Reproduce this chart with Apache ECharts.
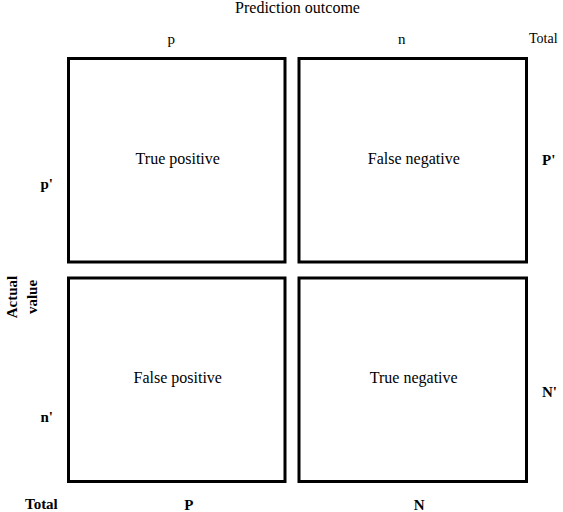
<!DOCTYPE html>
<html>
<head>
<meta charset="utf-8">
<script src="https://cdn.jsdelivr.net/npm/echarts@6/dist/echarts.min.js"></script>
<style>
html,body{margin:0;padding:0;background:#fff;}
#chart{width:563px;height:512px;}
</style>
</head>
<body>
<div id="chart"></div>
<script>
// ---- data ----
const columns = ['p', 'n'];
const rows = ["p'", "n'"];
const cellLabels = [
  ['True positive', 'False negative'],
  ['False positive', 'True negative']
];
const colTotals = ['P', 'N'];
const rowTotals = ["P'", "N'"];
const totalLabel = 'Total';
const xTitle = 'Prediction outcome';
const yTitle = 'Actual\nvalue';

// ---- build ----
const cells = [];
rows.forEach((r, ri) => columns.forEach((c, ci) => cells.push([ci, ri, cellLabels[ri][ci]])));

const FONT = '"Liberation Serif", "DejaVu Serif", serif';
const chart = echarts.init(document.getElementById('chart'), null, {renderer: 'svg'});

const hidden = {axisLine: {show: false}, axisTick: {show: false}, splitLine: {show: false}};

chart.setOption({
  backgroundColor: '#fff',
  animation: false,
  grid: {left: 67, right: 35, top: 57, bottom: 29, containLabel: false, outerBoundsMode: 'none'},
  xAxis: [
    Object.assign({
      type: 'category', data: columns, position: 'top',
      name: xTitle, nameLocation: 'middle', nameGap: 42,
      nameTextStyle: {fontFamily: FONT, fontSize: 16, color: '#000'},
      axisLabel: {fontFamily: FONT, fontSize: 15, color: '#000', margin: 11, padding: [0, 22, 0, 0]}
    }, hidden),
    Object.assign({
      type: 'category', data: colTotals, position: 'bottom',
      axisLabel: {fontFamily: FONT, fontSize: 15, fontWeight: 'bold', color: '#000', margin: 14, padding: [0, 0, 0, 13]}
    }, hidden)
  ],
  yAxis: [
    Object.assign({
      type: 'category', data: rows, inverse: true, position: 'left',
      axisLabel: {
        fontFamily: FONT, fontSize: 15, fontWeight: 'bold', color: '#000', margin: 14,
        formatter: (v, i) => '{r' + i + '|' + v + '}',
        rich: {
          r0: {fontFamily: FONT, fontSize: 15, fontWeight: 'bold', color: '#000', padding: [40, 0, 0, 0]},
          r1: {fontFamily: FONT, fontSize: 15, fontWeight: 'bold', color: '#000', padding: [80, 0, 0, 0]}
        }
      }
    }, hidden),
    Object.assign({
      type: 'category', data: rowTotals, inverse: true, position: 'right',
      axisLabel: {
        fontFamily: FONT, fontSize: 15, fontWeight: 'bold', color: '#000', margin: 14,
        formatter: (v, i) => '{r' + i + '|' + v + '}',
        rich: {
          r0: {fontFamily: FONT, fontSize: 15, fontWeight: 'bold', color: '#000', padding: [0, 0, 7, 0]},
          r1: {fontFamily: FONT, fontSize: 15, fontWeight: 'bold', color: '#000', padding: [31, 0, 0, 0]}
        }
      }
    }, hidden)
  ],
  graphic: [
    {type: 'text', left: 529, top: 31, style: {text: totalLabel, font: '14px ' + FONT, fill: '#000'}},
    {type: 'text', left: 25, top: 496, style: {text: totalLabel, font: 'bold 15px ' + FONT, fill: '#000'}},
    {type: 'text', x: 22, y: 297, rotation: Math.PI / 2,
     style: {text: yTitle, font: 'bold 15px ' + FONT, fill: '#000', align: 'center', verticalAlign: 'middle', lineHeight: 20}}
  ],
  series: [{
    type: 'custom',
    xAxisIndex: 0, yAxisIndex: 0,
    data: cells,
    renderItem: function (params, api) {
      const ci = api.value(0), ri = api.value(1);
      const c = api.coord([ci, ri]);
      const s = api.size([1, 1]);
      let x0 = c[0] - s[0] / 2, x1 = c[0] + s[0] / 2;
      let y0 = c[1] - s[1] / 2, y1 = c[1] + s[1] / 2;
      if (ci === 0) x1 -= 11;
      if (ri === 0) y1 -= 6.5; else y0 += 6.5;
      x0 += 1.5; x1 -= 1.5; y0 += 1.5; y1 -= 1.5;
      return {
        type: 'group',
        children: [
          {type: 'rect', shape: {x: x0, y: y0, width: x1 - x0, height: y1 - y0},
           style: {fill: '#fff', stroke: '#000', lineWidth: 3}},
          {type: 'text', x: (x0 + x1) / 2 + 1, y: (y0 + y1) / 2 - 2,
           style: {text: api.value(2), font: '16px ' + FONT, fill: '#000', align: 'center', verticalAlign: 'middle'}}
        ]
      };
    }
  }]
});
</script>
</body>
</html>
